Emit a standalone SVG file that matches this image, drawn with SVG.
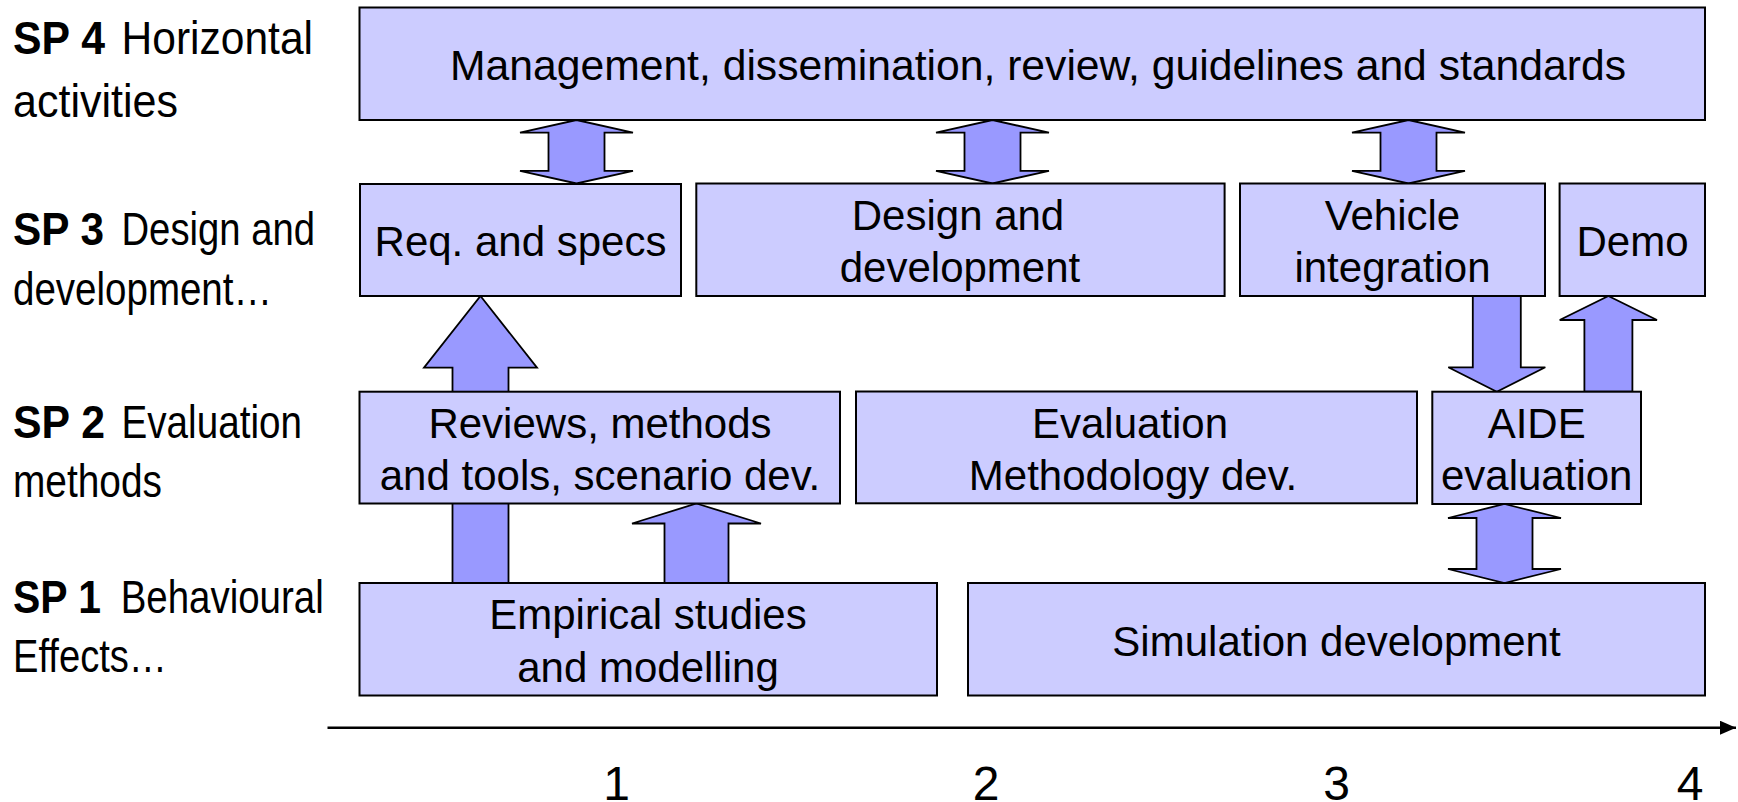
<svg xmlns="http://www.w3.org/2000/svg" width="1738" height="802" viewBox="0 0 1738 802">
<style>
.box{fill:#CCCCFF;stroke:#000;stroke-width:2}
.arr{fill:#9999FF;stroke:#000;stroke-width:1.8;stroke-linejoin:miter}
.bt{font-family:"Liberation Sans",Arial,sans-serif;font-size:42px;fill:#000;text-anchor:middle}
.lbl{font-family:"Liberation Sans",Arial,sans-serif;font-size:46px;fill:#000}
.b{font-weight:bold}
.num{font-family:"Liberation Sans",Arial,sans-serif;font-size:48px;fill:#000;text-anchor:middle}
</style>
<defs>
<marker id="ah" markerWidth="16" markerHeight="14" refX="16" refY="7" orient="auto" markerUnits="userSpaceOnUse">
<path d="M0,0 L16,7 L0,14 Z" fill="#000"/>
</marker>
</defs>
<rect width="1738" height="802" fill="#fff"/>

<g id="labels">
<text class="lbl b" x="13" y="54" textLength="92" lengthAdjust="spacingAndGlyphs">SP 4</text>
<text class="lbl" x="121.5" y="54" textLength="191.5" lengthAdjust="spacingAndGlyphs">Horizontal</text>
<text class="lbl" x="13" y="117" textLength="165" lengthAdjust="spacingAndGlyphs">activities</text>
<text class="lbl b" x="13" y="245" textLength="91" lengthAdjust="spacingAndGlyphs">SP 3</text>
<text class="lbl" x="121.5" y="245" textLength="193.5" lengthAdjust="spacingAndGlyphs">Design and</text>
<text class="lbl" x="13" y="305" textLength="259" lengthAdjust="spacingAndGlyphs">development…</text>
<text class="lbl b" x="13" y="438" textLength="92" lengthAdjust="spacingAndGlyphs">SP 2</text>
<text class="lbl" x="121.5" y="438" textLength="180.5" lengthAdjust="spacingAndGlyphs">Evaluation</text>
<text class="lbl" x="13" y="497" textLength="149" lengthAdjust="spacingAndGlyphs">methods</text>
<text class="lbl b" x="13" y="613" textLength="88" lengthAdjust="spacingAndGlyphs">SP 1</text>
<text class="lbl" x="120.7" y="613" textLength="203" lengthAdjust="spacingAndGlyphs">Behavioural</text>
<text class="lbl" x="13" y="672" textLength="154" lengthAdjust="spacingAndGlyphs">Effects…</text>
</g>

<g id="connectors">
<polygon class="arr" points="576.5,120 633,132.7 604.5,132.7 604.5,170.8 633,170.8 576.5,183.5 520,170.8 548.5,170.8 548.5,132.7 520,132.7"/>
<polygon class="arr" points="992.5,120 1049,132.7 1020.5,132.7 1020.5,170.8 1049,170.8 992.5,183.5 936,170.8 964.5,170.8 964.5,132.7 936,132.7"/>
<polygon class="arr" points="1408.5,120 1465,132.7 1436.5,132.7 1436.5,170.8 1465,170.8 1408.5,183.5 1352,170.8 1380.5,170.8 1380.5,132.7 1352,132.7"/>
<polygon class="arr" points="1504.5,504 1561,518 1532.5,518 1532.5,569 1561,569 1504.5,583 1448,569 1476.5,569 1476.5,518 1448,518"/>
<polygon class="arr" points="480.5,296 537,367.7 508.5,367.7 508.5,583 452.5,583 452.5,367.7 424,367.7"/>
<polygon class="arr" points="696.5,503.5 761,523.5 728.5,523.5 728.5,583 664.5,583 664.5,523.5 632,523.5"/>
<polygon class="arr" points="1472.8,296 1520.8,296 1520.8,367.3 1545.3,367.3 1496.8,391.7 1448.3,367.3 1472.8,367.3"/>
<polygon class="arr" points="1608.4,296 1657,320 1632.4,320 1632.4,391.7 1584.4,391.7 1584.4,320 1559.7,320"/>
</g>

<g id="n-management">
<rect class="box" x="359.5" y="7.5" width="1345.5" height="112.5"/>
<text class="bt" x="1038" y="80" textLength="1176" lengthAdjust="spacingAndGlyphs">Management, dissemination, review, guidelines and standards</text>
</g>
<g id="n-req">
<rect class="box" x="360" y="184" width="321" height="112"/>
<text class="bt" x="520.5" y="256">Req. and specs</text>
</g>
<g id="n-design">
<rect class="box" x="696.3" y="183.5" width="528.3" height="112.5"/>
<text class="bt" x="958" y="230">Design and</text>
<text class="bt" x="960" y="281.5">development</text>
</g>
<g id="n-vehicle">
<rect class="box" x="1240" y="183.5" width="305" height="112.5"/>
<text class="bt" x="1392.5" y="230">Vehicle</text>
<text class="bt" x="1392.5" y="281.5">integration</text>
</g>
<g id="n-demo">
<rect class="box" x="1559.6" y="183.5" width="145.4" height="112.5"/>
<text class="bt" x="1632.5" y="256">Demo</text>
</g>
<g id="n-reviews">
<rect class="box" x="359.5" y="391.7" width="480.5" height="111.8"/>
<text class="bt" x="600" y="437.5">Reviews, methods</text>
<text class="bt" x="600" y="490">and tools, scenario dev.</text>
</g>
<g id="n-evaluation">
<rect class="box" x="856" y="391.5" width="561" height="111.8"/>
<text class="bt" x="1130" y="437.5">Evaluation</text>
<text class="bt" x="1133" y="490">Methodology dev.</text>
</g>
<g id="n-aide">
<rect class="box" x="1432.3" y="391.7" width="208.7" height="112.3"/>
<text class="bt" x="1536.7" y="437.5">AIDE</text>
<text class="bt" x="1536.7" y="490">evaluation</text>
</g>
<g id="n-empirical">
<rect class="box" x="359.5" y="583" width="577.5" height="112.5"/>
<text class="bt" x="648" y="629">Empirical studies</text>
<text class="bt" x="648" y="681.5">and modelling</text>
</g>
<g id="n-simulation">
<rect class="box" x="968" y="583" width="737" height="112.5"/>
<text class="bt" x="1336.5" y="655.5">Simulation development</text>
</g>

<g id="axis">
<line x1="327.5" y1="727.7" x2="1736" y2="727.7" stroke="#000" stroke-width="2.5" marker-end="url(#ah)"/>
<text class="num" x="616.5" y="800">1</text>
<text class="num" x="986" y="800">2</text>
<text class="num" x="1336.7" y="800">3</text>
<text class="num" x="1690" y="800">4</text>
</g>
</svg>
